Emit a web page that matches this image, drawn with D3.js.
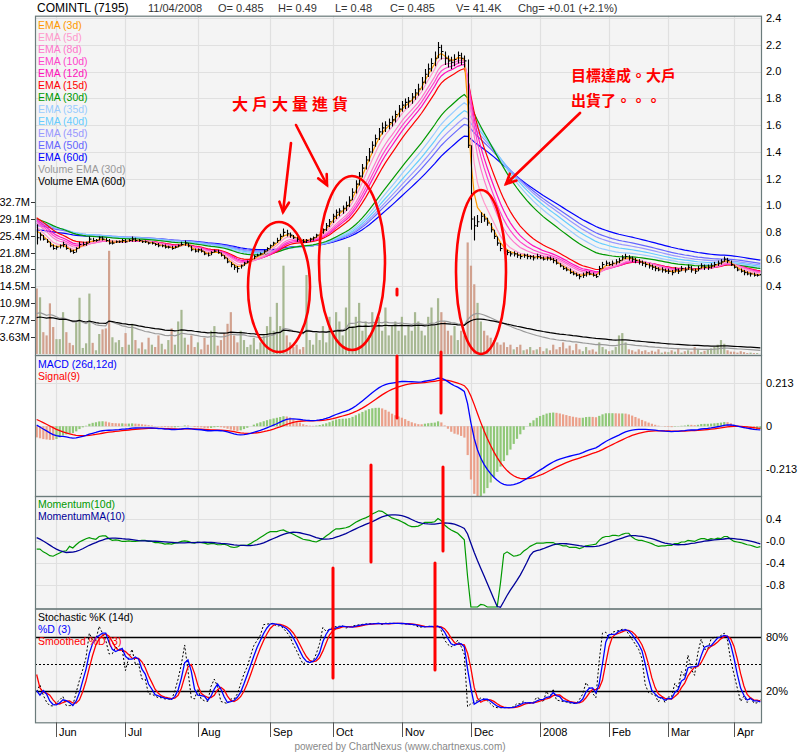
<!DOCTYPE html>
<html><head><meta charset="utf-8">
<script src="https://cdn.jsdelivr.net/npm/d3@7"></script>
<style>body{margin:0;background:#fff;}svg{display:block;font-family:Arial,"Liberation Sans",sans-serif;}</style>
</head><body><svg id="c" width="800" height="754"></svg>
<script>
// ---------------- DATA ----------------
const nonTradingDays = ["2007-05-31","2007-08-31","2007-09-17","2007-10-12","2007-10-15","2007-11-08","2008-01-01","2008-01-10","2008-02-06","2008-02-07","2008-02-08","2008-03-20"];
const preClose = [0.80,0.81,0.82,0.83,0.84,0.85,0.86,0.87,0.88,0.89,0.91,0.93,0.95,0.96,0.97,0.96,0.94,0.92,0.90,0.86];
const close = [
0.76,0.78,0.75,0.73,0.70,0.68,0.69,0.70,0.71,0.68,0.66,0.65,0.68,0.71,0.71,0.72,0.75,0.74,0.74,0.76,0.75,0.74,0.72,0.72,0.73,
0.73,0.74,0.73,0.74,0.75,0.74,0.74,0.73,0.73,0.72,0.72,0.71,0.70,0.70,0.69,0.69,0.68,0.69,0.70,0.71,0.72,0.70,0.67,0.66,
0.67,0.66,0.64,0.63,0.65,0.66,0.65,0.63,0.61,0.58,0.56,0.54,0.53,0.55,0.57,0.58,0.60,0.62,0.63,0.64,0.66,0.68,
0.70,0.72,0.74,0.77,0.80,0.79,0.78,0.76,0.75,0.74,0.73,0.74,0.75,0.76,0.78,0.80,0.82,0.85,0.88,0.92,
0.95,0.96,0.98,1.00,1.04,1.10,1.16,1.22,1.28,1.34,1.40,1.45,1.50,1.55,1.58,1.60,1.62,1.64,1.68,1.72,1.75,
1.77,1.78,1.81,1.84,1.87,1.92,1.98,2.02,2.06,2.10,2.18,2.15,2.10,2.08,2.07,2.09,2.12,2.10,2.08,1.45,0.90,
0.85,0.88,0.92,0.90,0.87,0.82,0.77,0.72,0.68,0.66,0.65,0.64,0.64,0.63,0.62,0.63,0.62,0.62,0.61,
0.62,0.61,0.60,0.61,0.60,0.59,0.57,0.55,0.53,0.52,0.50,0.49,0.48,0.47,0.48,0.50,0.49,0.48,0.47,0.53,0.56,
0.57,0.56,0.57,0.58,0.59,0.61,0.62,0.61,0.60,0.59,0.58,0.57,0.56,0.55,0.54,0.53,0.52,0.52,0.51,
0.51,0.50,0.52,0.51,0.53,0.52,0.54,0.52,0.51,0.53,0.55,0.54,0.54,0.55,0.56,0.57,0.58,0.60,0.59,0.56,
0.54,0.52,0.51,0.50,0.49,0.49,0.48,0.48,0.485];
const high = [
0.86,0.80,0.78,0.75,0.73,0.71,0.70,0.71,0.73,0.71,0.68,0.67,0.69,0.73,0.73,0.73,0.77,0.76,0.75,0.77,0.77,0.76,0.75,0.74,0.74,
0.74,0.75,0.75,0.75,0.77,0.76,0.75,0.74,0.74,0.73,0.73,0.72,0.72,0.71,0.71,0.70,0.70,0.70,0.71,0.73,0.74,0.72,0.70,0.68,
0.68,0.68,0.66,0.65,0.66,0.67,0.67,0.65,0.63,0.61,0.58,0.56,0.55,0.56,0.58,0.59,0.61,0.63,0.64,0.65,0.67,0.69,
0.71,0.73,0.76,0.79,0.83,0.82,0.80,0.78,0.77,0.76,0.75,0.75,0.76,0.77,0.79,0.81,0.83,0.87,0.90,0.94,
0.97,0.98,1.00,1.03,1.07,1.13,1.19,1.25,1.31,1.37,1.43,1.48,1.53,1.58,1.62,1.63,1.65,1.67,1.71,1.75,1.78,
1.80,1.81,1.84,1.87,1.91,1.96,2.02,2.06,2.10,2.15,2.22,2.20,2.15,2.12,2.11,2.13,2.15,2.14,2.12,2.09,1.45,
0.92,0.93,0.95,0.94,0.91,0.87,0.82,0.77,0.72,0.69,0.67,0.66,0.66,0.65,0.64,0.64,0.64,0.63,0.63,
0.64,0.63,0.62,0.62,0.62,0.61,0.60,0.57,0.55,0.54,0.53,0.51,0.50,0.49,0.50,0.51,0.51,0.50,0.49,0.55,0.58,
0.59,0.58,0.59,0.60,0.61,0.63,0.64,0.63,0.62,0.61,0.60,0.59,0.58,0.57,0.56,0.55,0.54,0.54,0.53,
0.53,0.52,0.54,0.53,0.55,0.54,0.56,0.55,0.53,0.55,0.57,0.56,0.56,0.57,0.58,0.59,0.60,0.62,0.61,0.59,
0.56,0.54,0.53,0.52,0.51,0.50,0.50,0.49,0.49];
const low = [
0.71,0.74,0.74,0.72,0.69,0.67,0.67,0.68,0.69,0.67,0.65,0.64,0.65,0.68,0.70,0.70,0.72,0.73,0.73,0.74,0.74,0.73,0.71,0.71,0.72,
0.72,0.72,0.72,0.73,0.73,0.73,0.73,0.72,0.72,0.71,0.71,0.70,0.69,0.69,0.68,0.68,0.67,0.68,0.69,0.70,0.70,0.69,0.66,0.65,
0.65,0.65,0.63,0.62,0.63,0.65,0.64,0.62,0.60,0.57,0.54,0.52,0.50,0.53,0.55,0.57,0.58,0.60,0.62,0.63,0.64,0.66,
0.68,0.70,0.72,0.74,0.77,0.77,0.76,0.75,0.73,0.73,0.72,0.72,0.73,0.74,0.76,0.77,0.79,0.81,0.84,0.87,
0.90,0.92,0.94,0.96,0.99,1.04,1.09,1.15,1.21,1.27,1.33,1.39,1.44,1.49,1.53,1.55,1.57,1.59,1.62,1.66,1.70,
1.72,1.73,1.76,1.79,1.82,1.86,1.91,1.96,2.00,2.04,2.10,2.09,2.05,2.03,2.02,2.04,2.06,2.05,2.03,1.43,0.82,
0.74,0.84,0.87,0.88,0.85,0.80,0.75,0.70,0.66,0.64,0.63,0.62,0.62,0.61,0.60,0.61,0.60,0.60,0.59,
0.60,0.60,0.59,0.59,0.59,0.57,0.56,0.54,0.52,0.51,0.49,0.48,0.47,0.45,0.46,0.47,0.48,0.47,0.46,0.48,0.53,
0.55,0.55,0.55,0.56,0.57,0.59,0.60,0.59,0.58,0.57,0.56,0.55,0.54,0.53,0.52,0.51,0.51,0.50,0.50,
0.49,0.48,0.50,0.49,0.51,0.50,0.52,0.50,0.49,0.51,0.53,0.52,0.52,0.53,0.54,0.55,0.56,0.58,0.57,0.55,
0.53,0.51,0.50,0.48,0.48,0.47,0.47,0.47,0.48];
// volume in millions of shares
const volume = [
14.1,12.2,4.7,4.0,10.9,5.8,3.2,3.2,9.0,4.7,2.4,1.9,6.8,12.1,1.3,2.3,13.0,2.4,0.8,4.3,5.3,5.5,22.2,3.6,2.5,
3.0,1.5,4.5,2.0,6.5,3.0,1.2,2.5,1.0,3.5,2.0,1.5,4.0,2.2,1.0,3.0,5.5,2.0,7.0,9.5,3.5,2.0,4.0,1.5,
2.5,1.0,3.5,2.0,5.0,6.0,1.8,3.0,4.5,6.5,9.0,4.0,2.5,5.0,3.0,1.5,2.0,3.5,1.0,2.5,4.0,6.0,
8.0,5.0,11.0,6.0,19.0,4.0,2.5,1.5,2.0,1.0,1.5,17.0,3.0,2.0,4.5,3.0,6.0,2.5,8.0,5.0,
9.0,7.0,4.0,10.0,23.0,6.0,8.0,11.0,5.0,7.0,4.0,9.0,6.0,8.0,5.0,10.0,4.0,6.0,7.0,5.0,8.0,
4.0,6.0,5.0,9.0,7.0,5.0,4.0,8.0,10.0,6.0,12.0,9.0,7.0,5.0,4.0,6.0,3.0,5.0,4.0,24.0,19.0,
15.0,11.0,7.0,5.0,4.0,3.5,3.0,2.5,2.0,2.5,1.5,2.0,1.0,1.5,2.0,0.8,1.0,1.5,0.8,
1.0,1.5,0.6,1.2,0.8,2.0,1.0,1.5,2.5,1.2,1.8,0.8,2.2,1.0,0.6,1.5,0.8,1.0,0.5,2.5,1.5,
1.0,0.6,0.8,1.5,4.0,4.5,2.5,1.0,0.8,0.5,1.0,0.6,0.8,0.4,0.7,0.5,1.0,0.3,0.5,
0.4,0.8,0.5,1.2,0.3,0.6,0.8,0.5,1.5,1.0,0.4,0.7,0.9,1.2,1.5,2.0,3.0,2.2,0.8,0.5,
0.5,0.3,0.6,0.4,0.2,0.3,0.2,0.2,0.04];
const emaPeriods = [3,5,8,10,12,15,30,35,40,45,50,60];
const emaSeeds   = [0.86,0.88,0.90,0.91,0.92,0.93,0.91,0.895,0.885,0.87,0.855,0.82];
const volEmaPeriods = [30,60];
const volEmaSeeds = [8.3,7.6];
const macdSeeds = [0.92,0.90,0.04]; // EMA12, EMA26, signal
const priceTicks = [0.4,0.6,0.8,1.0,1.2,1.4,1.6,1.8,2.0,2.2,2.4];
const volTicks = [3.63,7.27,10.9,14.5,18.2,21.8,25.4,29.1,32.7];
const macdTicks = [0.213,0,-0.213];
const momTicks = [0.4,0,-0.4,-0.8];
const momTickLabels = ["0.4","-0.0","-0.4","-0.8"];
const stochTicks = [80,20];
const header = ["COMINTL (7195)","11/04/2008","O= 0.485","H= 0.49","L= 0.48","C= 0.485","V= 41.4K","Chg= +0.01 (+2.1%)"];
const emaLegend = ["EMA (3d)","EMA (5d)","EMA (8d)","EMA (10d)","EMA (12d)","EMA (15d)","EMA (30d)","EMA (35d)","EMA (40d)","EMA (45d)","EMA (50d)","EMA (60d)","Volume EMA (30d)","Volume EMA (60d)"];
const note1 = "大戶大量進貨";
const note2 = ["目標達成。大戶","出貨了。。。"];

// ---------------- STYLE ----------------
const emaColors = ["#ff9900","#ff99cc","#ff77cc","#ff44cc","#ff11bb","#ff0000","#009900","#99ccff","#66ccff","#9999ff","#6666ff","#0000ff"];
const volEmaColors = ["#999999","#000000"];
const BG="#f4f4f4", GRID="#e0e0e0", BORDER="#6b7b7b";
const X0=35, X1=762;
const P = {main:[15.7,355], macd:[355,496], mom:[496,608.5], sto:[608.5,722.3]};

// ---------------- COMPUTE ----------------
const hol = new Set(nonTradingDays);
const fmt = d3.timeFormat("%Y-%m-%d");
const dates = d3.timeDay.range(new Date(2007,4,23), new Date(2008,3,12))
  .filter(d => d.getDay()!==0 && d.getDay()!==6 && !hol.has(fmt(d)));
const N = close.length;
function ema(arr, period, seed){ const a=2/(period+1); let e=seed; return arr.map(v=> (e = e + a*(v-e))); }
const emas = emaPeriods.map((p,k)=>ema(close,p,emaSeeds[k]));
const volEmas = volEmaPeriods.map((p,k)=>ema(volume,p,volEmaSeeds[k]));
const e12 = ema(close,12,macdSeeds[0]), e26 = ema(close,26,macdSeeds[1]);
const macd = e12.map((v,i)=>v-e26[i]);
const signal = ema(macd,9,macdSeeds[2]);
const hist = macd.map((v,i)=>2*(v-signal[i]));
const allC = preClose.concat(close), allH = preClose.concat(high), allL = preClose.concat(low);
const off = preClose.length;
const momAll = allC.map((v,j)=> j>=10 ? v-allC[j-10] : null);
const mom = close.map((v,i)=>momAll[i+off]);
const momMA = close.map((v,i)=>d3.mean(momAll.slice(i+off-9,i+off+1)));
const kAll = allC.map((c,j)=>{ const s=Math.max(0,j-13); const hh=d3.max(allH.slice(s,j+1)), ll=d3.min(allL.slice(s,j+1)); return hh>ll?100*(c-ll)/(hh-ll):50; });
const dAll = kAll.map((v,j)=>d3.mean(kAll.slice(Math.max(0,j-2),j+1)));
const sdAll = dAll.map((v,j)=>d3.mean(dAll.slice(Math.max(0,j-2),j+1)));
const K = close.map((v,i)=>kAll[i+off]), D = close.map((v,i)=>dAll[i+off]), SD = close.map((v,i)=>sdAll[i+off]);

// ---------------- SCALES ----------------
const x = d3.scaleLinear().domain([0,N]).range([X0,X1]);
const xc = i => x(i+0.5);
const yP = d3.scaleLinear().domain([0.4,2.4]).range([286,18]);
const yV = d3.scaleLinear().domain([0,32.7]).range([354,202]);
const yM = d3.scaleLinear().domain([-0.213,0.213]).range([469.5,383]);
const yMo = d3.scaleLinear().domain([-0.8,0.4]).range([584.7,519]);
const yS = d3.scaleLinear().domain([20,80]).range([691,637.3]);

const monthIdx = [];
dates.forEach((d,i)=>{ if(i>0 && d.getMonth()!==dates[i-1].getMonth()) monthIdx.push(i); });
const monthLabel = i => dates[i].getMonth()===0 ? d3.timeFormat("%Y")(dates[i]) : d3.timeFormat("%b")(dates[i]);

const svg = d3.select("#c");
svg.append("rect").attr("width",800).attr("height",754).attr("fill","#fff");
const defs = svg.append("defs");
Object.entries(P).forEach(([k,[a,b]])=>{
  defs.append("clipPath").attr("id","clip-"+k).append("rect").attr("x",X0).attr("y",a).attr("width",X1-X0).attr("height",b-a);
});

// panels
Object.entries(P).forEach(([k,[a,b]])=>{
  svg.append("rect").attr("x",X0).attr("y",a).attr("width",X1-X0).attr("height",b-a).attr("fill",BG);
});
// vertical grid
Object.entries(P).forEach(([k,[a,b]])=>{
  svg.append("g").selectAll("line").data(monthIdx).join("line")
    .attr("x1",i=>Math.round(xc(i))+0.5).attr("x2",i=>Math.round(xc(i))+0.5).attr("y1",a).attr("y2",b)
    .attr("stroke",GRID).attr("stroke-width",1.2);
});
// horizontal grids
const hg = (ticks, sc) => svg.append("g").selectAll("line").data(ticks).join("line")
  .attr("x1",X0).attr("x2",X1).attr("y1",d=>Math.round(sc(d))+0.5).attr("y2",d=>Math.round(sc(d))+0.5)
  .attr("stroke",GRID).attr("stroke-width",1.2);
hg(priceTicks, yP); hg(macdTicks, yM); hg(momTicks, yMo);

// ---- main: volume ----
const gMain = svg.append("g").attr("clip-path","url(#clip-main)");
gMain.append("g").selectAll("rect").data(volume).join("rect")
  .attr("x",(v,i)=>xc(i)-1).attr("width",2.2)
  .attr("y",v=>yV(v)).attr("height",v=>yV(0)-yV(v))
  .attr("fill",(v,i)=>{ const pc = i>0?close[i-1]:preClose[preClose.length-1]; return close[i]>=pc ? "#a7b892" : "#d1a18e"; });
volEmas.forEach((arr,k)=>{
  gMain.append("path").datum(arr).attr("fill","none").attr("stroke",volEmaColors[k]).attr("stroke-width",1.2)
    .attr("d",d3.line().x((v,i)=>xc(i)).y(v=>yV(v)));
});
// ---- main: EMA lines ----
for(let k=emas.length-1;k>=0;k--){
  gMain.append("path").datum(emas[k]).attr("fill","none").attr("stroke",emaColors[k]).attr("stroke-width",1.2)
    .attr("d",d3.line().x((v,i)=>xc(i)).y(v=>yP(v)));
}
// ---- main: price bars ----
const gBars = gMain.append("g").attr("stroke","#000").attr("stroke-width",1.1);
close.forEach((c,i)=>{
  const xx = Math.round(xc(i))+0.5;
  gBars.append("line").attr("x1",xx).attr("x2",xx).attr("y1",yP(high[i])).attr("y2",yP(low[i]));
  gBars.append("line").attr("x1",xx).attr("x2",xx+2).attr("y1",yP(c)).attr("y2",yP(c));
});

// ---- MACD ----
const gM = svg.append("g").attr("clip-path","url(#clip-macd)");
gM.append("g").selectAll("rect").data(hist).join("rect")
  .attr("x",(v,i)=>xc(i)-1).attr("width",2.2)
  .attr("y",v=>Math.min(yM(0),yM(v))).attr("height",v=>Math.abs(yM(v)-yM(0)))
  .attr("fill",(v,i)=> (i>0 && v>=hist[i-1]) ? "#90c878" : "#eba08a");
gM.append("path").datum(signal).attr("fill","none").attr("stroke","#ff0000").attr("stroke-width",1.3).attr("d",d3.line().x((v,i)=>xc(i)).y(v=>yM(v)));
gM.append("path").datum(macd).attr("fill","none").attr("stroke","#0000ff").attr("stroke-width",1.3).attr("d",d3.line().x((v,i)=>xc(i)).y(v=>yM(v)));

// ---- Momentum ----
const gMo = svg.append("g").attr("clip-path","url(#clip-mom)");
gMo.append("path").datum(mom).attr("fill","none").attr("stroke","#009900").attr("stroke-width",1.2).attr("d",d3.line().x((v,i)=>xc(i)).y(v=>Math.min(P.mom[1]-1.5,yMo(v))));
gMo.append("path").datum(momMA).attr("fill","none").attr("stroke","#000099").attr("stroke-width",1.3).attr("d",d3.line().x((v,i)=>xc(i)).y(v=>yMo(v)));

// ---- Stochastic ----
const gS = svg.append("g").attr("clip-path","url(#clip-sto)");
gS.append("line").attr("x1",X0).attr("x2",X1).attr("y1",Math.round(yS(50))+0.5).attr("y2",Math.round(yS(50))+0.5).attr("stroke","#000").attr("stroke-dasharray","2,2");
stochTicks.forEach(t=>gS.append("line").attr("x1",X0).attr("x2",X1).attr("y1",Math.round(yS(t))+0.5).attr("y2",Math.round(yS(t))+0.5).attr("stroke","#000").attr("stroke-width",1.3));
gS.append("path").datum(K).attr("fill","none").attr("stroke","#000").attr("stroke-width",1).attr("stroke-dasharray","2,2").attr("d",d3.line().x((v,i)=>xc(i)).y(v=>yS(v)));
gS.append("path").datum(SD).attr("fill","none").attr("stroke","#ff0000").attr("stroke-width",1.3).attr("d",d3.line().x((v,i)=>xc(i)).y(v=>yS(v)));
gS.append("path").datum(D).attr("fill","none").attr("stroke","#0000ff").attr("stroke-width",1.3).attr("d",d3.line().x((v,i)=>xc(i)).y(v=>yS(v)));

// panel borders
Object.entries(P).forEach(([k,[a,b]])=>{
  svg.append("rect").attr("x",X0+0.5).attr("y",a+0.5).attr("width",X1-X0-1).attr("height",b-a).attr("fill","none").attr("stroke",BORDER).attr("stroke-width",1.2);
});

// ---- axes text ----
const rt = (ticks, sc, labels) => svg.append("g").selectAll("text").data(ticks).join("text")
  .attr("x",766).attr("y",d=>sc(d)).attr("dy","0.35em").attr("font-size",11).attr("fill","#000")
  .text((d,i)=>labels[i]);
rt(priceTicks, yP, priceTicks.map(d=>d.toFixed(1)));
rt(macdTicks, yM, macdTicks.map(d=>d===0?"0":String(d)));
rt(momTicks, yMo, momTickLabels);
rt(stochTicks, yS, stochTicks.map(d=>d+"%"));
svg.append("g").selectAll("text").data(volTicks).join("text")
  .attr("x",30).attr("y",d=>yV(d)).attr("dy","0.35em").attr("text-anchor","end").attr("font-size",11).text(d=>d+"M");
svg.append("g").selectAll("line").data(volTicks).join("line")
  .attr("x1",31).attr("x2",35).attr("y1",d=>Math.round(yV(d))+0.5).attr("y2",d=>Math.round(yV(d))+0.5).attr("stroke","#333");

// x axis
const gx = svg.append("g");
gx.selectAll("line").data(monthIdx).join("line")
  .attr("x1",i=>Math.round(xc(i))+0.5).attr("x2",i=>Math.round(xc(i))+0.5).attr("y1",P.sto[1]).attr("y2",737)
  .attr("stroke","#555");
gx.selectAll("text").data(monthIdx).join("text")
  .attr("x",i=>Math.round(xc(i))+3).attr("y",736).attr("font-size",11).text(i=>monthLabel(i));

// header
const hx = [37,148,218,278,335,390,456,518];
svg.append("g").selectAll("text").data(header).join("text")
  .attr("x",(d,i)=>hx[i]).attr("y",11.8).attr("font-size",(d,i)=>i===0?12:11).attr("fill",(d,i)=>i===0?"#000":"#333").text(d=>d);

// legends
svg.append("g").selectAll("text").data(emaLegend).join("text")
  .attr("x",38).attr("y",(d,i)=>28.5+i*12).attr("font-size",10.5)
  .attr("fill",(d,i)=> i<12?emaColors[i]:volEmaColors[i-12]).text(d=>d);
const leg = (items, y0) => items.forEach(([t,c],i)=>svg.append("text").attr("x",38).attr("y",y0+i*12).attr("font-size",10.5).attr("fill",c).text(t));
leg([["MACD (26d,12d)","#0000ff"],["Signal(9)","#ff0000"]], 368);
leg([["Momentum(10d)","#009900"],["MomentumMA(10)","#000099"]], 508);
leg([["Stochastic %K (14d)","#000"],["%D (3)","#0000ff"],["Smoothed %D (3)","#ff0000"]], 621);

// footer
svg.append("text").attr("x",400).attr("y",750).attr("text-anchor","middle").attr("font-size",10).attr("fill","#888")
  .text("powered by ChartNexus (www.chartnexus.com)");

// ---- annotations (red hand-drawn) ----
const ann = svg.append("g").attr("stroke","#ff0000").attr("fill","none").attr("stroke-width",2.6).attr("stroke-linecap","round");
[[279,287,31,65],[352,263,33,87],[481,272,25,82]].forEach(([cx,cy,rx,ry])=>ann.append("ellipse").attr("cx",cx).attr("cy",cy).attr("rx",rx).attr("ry",ry));
const arrow = (x1,y1,x2,y2)=>{
  ann.append("line").attr("x1",x1).attr("y1",y1).attr("x2",x2).attr("y2",y2);
  const a=Math.atan2(y2-y1,x2-x1), L=11, s=0.45;
  ann.append("path").attr("d",`M${x2-L*Math.cos(a-s)},${y2-L*Math.sin(a-s)}L${x2},${y2}L${x2-L*Math.cos(a+s)},${y2-L*Math.sin(a+s)}`);
};
arrow(291,143,283,212); arrow(296,125,327,185); arrow(580,113,506,184);
[[397,356,418],[441,352,413],[371,465,562],[443,467,551],[333,568,678],[435,563,670],[397,289,295]].forEach(([xx,a,b])=>
  ann.append("line").attr("x1",xx).attr("x2",xx).attr("y1",a).attr("y2",b).attr("stroke-width",3));
const cjk = '"Noto Sans CJK TC","Noto Sans CJK SC",sans-serif';
svg.append("text").attr("x",232).attr("y",110).attr("font-family",cjk).attr("font-weight","bold").attr("font-size",16).attr("letter-spacing",4).attr("fill","#ff0000").text(note1);
note2.forEach((t,i)=>svg.append("text").attr("x",571).attr("y",81+i*25).attr("font-family",cjk).attr("font-weight","bold").attr("font-size",15).attr("fill","#ff0000").text(t));
</script></body></html>
